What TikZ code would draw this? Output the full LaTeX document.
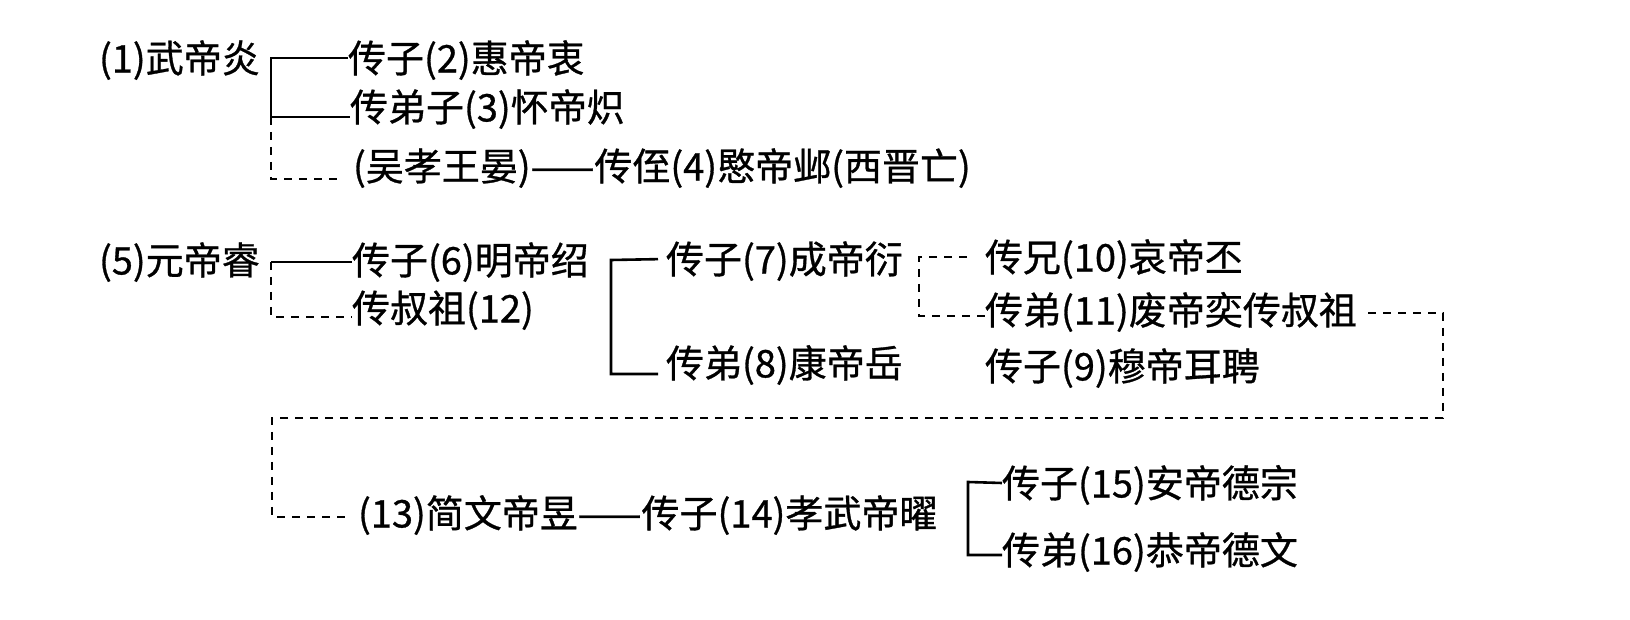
\documentclass[tikz,border=0pt]{standalone}
\usepackage{fontspec}
\setmainfont{Noto Sans CJK SC}[FakeBold=0.8]
\begin{document}
\begin{tikzpicture}[x=0.5pt,y=-0.5pt,
  t/.style={anchor=west,inner sep=0pt,outer sep=0pt,
    font=\fontsize{19pt}{23pt}\selectfont,text height=16.7pt,text depth=2.3pt},
  sl/.style={line width=1.3pt},
  dl/.style={line width=0.9pt,dash pattern=on 4pt off 3.5pt}]
\fill[white] (0,0) rectangle (1630,620);
\useasboundingbox (0,0) rectangle (1630,620);

% group 1
\node[t] (n1) at (99,58) {(1)武帝炎};
\node[t] (n2) at (348,58) {传子(2)惠帝衷};
\node[t] (n3) at (350,107) {传弟子(3)怀帝炽};
\node[t] (n4) at (353,166) {(吴孝王晏)——传侄(4)愍帝邺(西晋亡)};
\coordinate (a1) at (271,58);
\coordinate (a2) at (271,117);
\coordinate (a3) at (271,179);
\coordinate (a4) at (338,179);
\draw[sl] (n2.west) -- (a1) -- (a2) -- (a2 -| n3.west);
\draw[dl] (a2) -- (a3) -- (a4);

% group 2
\node[t] (n5) at (99,260) {(5)元帝睿};
\node[t] (n6) at (352,260) {传子(6)明帝绍};
\node[t] (n12) at (352,308) {传叔祖(12)};
\node[t] (n7) at (666,259) {传子(7)成帝衍};
\node[t] (n8) at (666,363) {传弟(8)康帝岳};
\node[t] (n10) at (985,257) {传兄(10)哀帝丕};
\node[t] (n11) at (985,310) {传弟(11)废帝奕传叔祖};
\node[t] (n9) at (985,366) {传子(9)穆帝耳聘};
\coordinate (b1) at (271,262);
\coordinate (b2) at (271,317);
\draw[sl] (b1) -- (b1 -| n6.west);
\draw[dl] (b1) -- (b2) -- (b2 -| n12.west);
\coordinate (c1) at (611,260);
\coordinate (c2) at (611,374);
\draw[sl,shorten <=4pt,shorten >=4pt] (n7.west) -- (c1) -- (c2) -- (c2 -| n8.west);
\coordinate (d1) at (919,257);
\coordinate (d2) at (919,316);
\coordinate (d3) at (967,257);
\draw[dl] (d3) -- (d1) -- (d2) -- (d2 -| n11.west);
\coordinate (e0) at (1368,313);
\coordinate (e1) at (1443,313);
\coordinate (e2) at (1443,418);
\coordinate (e3) at (272,418);
\coordinate (e4) at (272,517);
\coordinate (e5) at (345,517);
\draw[dl] (e0) -- (e1) -- (e2) -- (e3) -- (e4) -- (e5);

% group 3
\node[t] (n13) at (358,513) {(13)简文帝昱——传子(14)孝武帝曜};
\node[t] (n15) at (1002,483) {传子(15)安帝德宗};
\node[t] (n16) at (1002,550) {传弟(16)恭帝德文};
\coordinate (f1) at (968,482);
\coordinate (f2) at (968,555);
\draw[sl] (n15.west) -- (f1) -- (f2) -- (f2 -| n16.west);
\end{tikzpicture}
\end{document}
